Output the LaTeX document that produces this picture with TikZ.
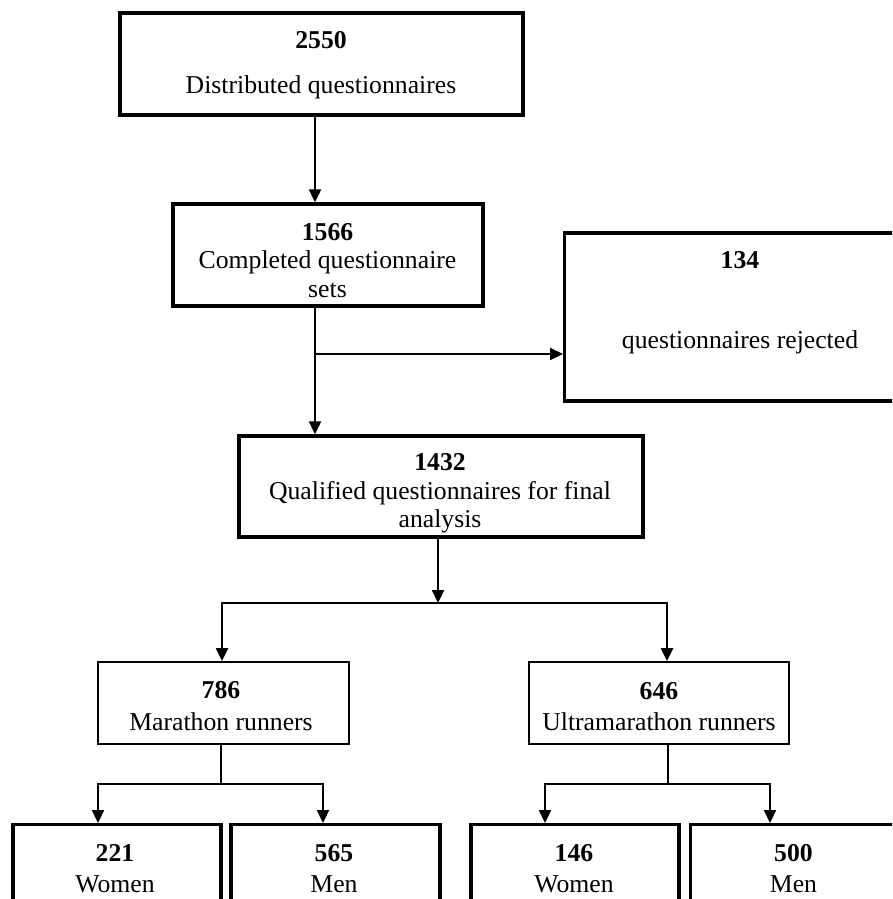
\documentclass[tikz,border=0pt]{standalone}
\usepackage{fontspec}
\setmainfont{Liberation Serif}
\usetikzlibrary{arrows.meta}
\begin{document}
\begin{tikzpicture}[x=1pt,y=-1pt,line width=2.2pt,
  every node/.style={font=\fontsize{25.7}{28.5}\selectfont,inner sep=0pt,align=center},
  heavybox/.style={draw,line width=3.4pt},
  lightbox/.style={draw,line width=1.8pt},
  arr/.style={-{Triangle[length=13pt,width=12pt]}}]
\path[use as bounding box,clip] (0,0) rectangle (892,899);
\node[heavybox,minimum width=403pt,minimum height=102pt] (b2550) at (321.5,64) {};
\node[heavybox,minimum width=310pt,minimum height=102pt] (b1566) at (328,255) {};
\node[heavybox,anchor=west,minimum width=360pt,minimum height=168pt] (b134) at (563,317) {};
\node[heavybox,minimum width=404pt,minimum height=101pt] (b1432) at (441,486.5) {};
\node[lightbox,minimum width=251pt,minimum height=82pt] (b786) at (223.5,703) {};
\node[lightbox,minimum width=260pt,minimum height=82pt] (b646) at (659,703) {};
\node[heavybox,anchor=north,minimum width=208pt,minimum height=130pt] (b221) at (117,823) {};
\node[heavybox,anchor=north,minimum width=209pt,minimum height=130pt] (b565) at (335.5,823) {};
\node[heavybox,anchor=north,minimum width=208pt,minimum height=130pt] (b146) at (575,823) {};
\node[heavybox,anchor=north west,minimum width=220pt,minimum height=130pt] (b500) at (689,823) {};
\node (t2550) at (321,65.5) {\textbf{2550}\\[16.5pt]Distributed questionnaires};
\node (t1566) at (327.5,260.5) {\textbf{1566}\\Completed questionnaire\\sets};
\node (t134) at (740,303) {\textbf{134}\\[51.5pt]questionnaires rejected};
\node (t1432) at (440,493.5) {\textbf{1432}\\Qualified questionnaires for final\\analysis};
\node (t786) at (221,706) {\textbf{786}\\[3pt]Marathon runners};
\node (t646) at (659,706.5) {\textbf{646}\\[3pt]Ultramarathon runners};
\node (t221) at (115,868.5) {\textbf{221}\\[3pt]Women};
\node (t565) at (334,868.5) {\textbf{565}\\[3pt]Men};
\node (t146) at (574,868.5) {\textbf{146}\\[3pt]Women};
\node (t500) at (793.5,868.5) {\textbf{500}\\[3pt]Men};
\coordinate (fork) at (315,354);
\draw[arr] (b2550.south -| fork) -- (b1566.north -| fork);
\draw (b1566.south -| fork) -- (fork);
\draw[arr] (fork) -- (b1432.north -| fork);
\draw[arr] (fork) -- (b134.west |- fork);
\coordinate (split) at (438,603);
\coordinate (splitL) at (222,603);
\coordinate (splitR) at (667,603);
\draw[arr] (b1432.south -| split) -- (split);
\draw[arr] (split) -| (b786.north -| splitL);
\draw[arr] (split) -| (b646.north -| splitR);
\coordinate (marM) at (221,784);
\coordinate (marL) at (98,784);
\coordinate (marR) at (323,784);
\draw (b786.south -| marM) -- (marM);
\draw[arr] (marM) -| (b221.north -| marL);
\draw[arr] (marM) -| (b565.north -| marR);
\coordinate (ultM) at (668,784);
\coordinate (ultL) at (545,784);
\coordinate (ultR) at (770,784);
\draw (b646.south -| ultM) -- (ultM);
\draw[arr] (ultM) -| (b146.north -| ultL);
\draw[arr] (ultM) -| (b500.north -| ultR);
\end{tikzpicture}
\end{document}
